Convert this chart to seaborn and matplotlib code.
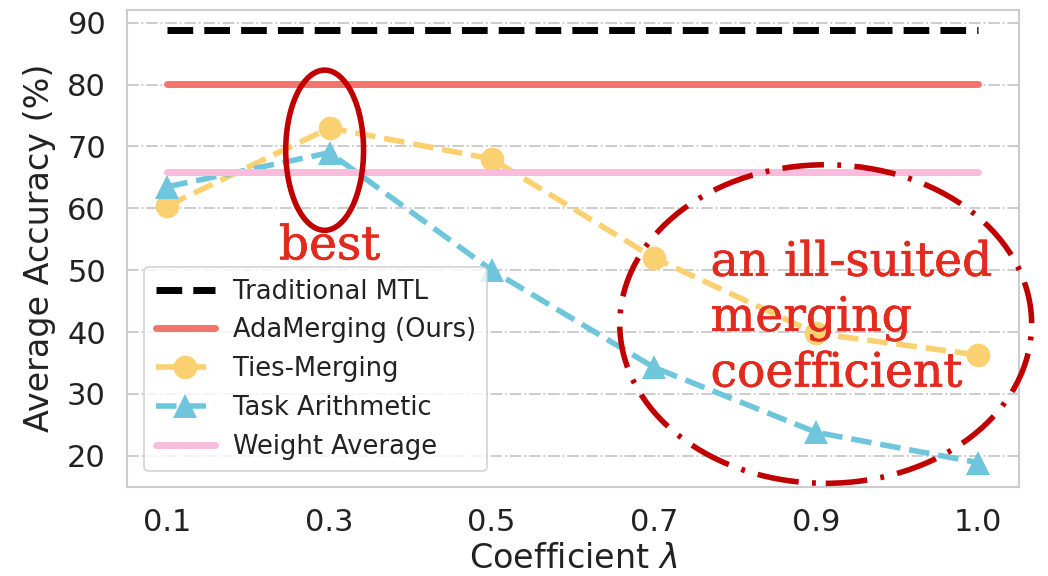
import matplotlib
matplotlib.use("Agg")
import matplotlib.pyplot as plt
import matplotlib.patheffects as pe
import seaborn as sns
import pandas as pd
import numpy as np
from matplotlib.patches import Ellipse

coefficients = ["0.1", "0.3", "0.5", "0.7", "0.9", "1.0"]
traditional_mtl = [88.9] * 6
adamerging = [80.1] * 6
ties_merging = [60.4, 73.0, 68.0, 52.0, 39.8, 36.3]
task_arithmetic = [63.5, 69.0, 50.0, 34.3, 23.8, 18.9]
weight_average = [65.9] * 6

sns.set_theme(style="whitegrid")
plt.rcParams['font.family'] = ['DejaVu Sans']

fig, ax = plt.subplots(figsize=(10.48, 5.76), dpi=100)
pos = np.arange(len(coefficients))

sns.lineplot(x=pos, y=traditional_mtl, ax=ax, color="black", lw=5,
             linestyle=(0, (3.7, 1.6)), label="Traditional MTL")
sns.lineplot(x=pos, y=adamerging, ax=ax, color="#f07470", lw=5,
             solid_capstyle="round", label="AdaMerging (Ours)")
sns.lineplot(x=pos, y=ties_merging, ax=ax, color="#fbd070", lw=4,
             linestyle=(0, (3.7, 1.6)), marker="o", markersize=17,
             markeredgewidth=0, label="Ties-Merging")
sns.lineplot(x=pos, y=task_arithmetic, ax=ax, color="#6fc6dc", lw=4,
             linestyle=(0, (3.7, 1.6)), marker="^", markersize=17,
             markeredgewidth=0, label="Task Arithmetic")
sns.lineplot(x=pos, y=weight_average, ax=ax, color="#f9bcdc", lw=5,
             solid_capstyle="round", label="Weight Average")

ax.set_xlim(-0.25, 5.25)
ax.set_ylim(15, 92.1)
ax.set_xticks(pos)
ax.set_xticklabels(coefficients)
ax.set_yticks([20, 30, 40, 50, 60, 70, 80, 90])
ax.tick_params(axis="both", labelsize=22, colors="#222222", pad=9)
ax.set_xlabel("Coefficient $\\lambda$", fontsize=24, color="#222222",
              labelpad=4)
ax.set_ylabel("Average Accuracy (%)", fontsize=24, color="#222222",
              labelpad=8)
ax.grid(axis="x", visible=False)
ax.grid(axis="y", linestyle="-.", color="#c8c8c8", lw=1.3)
for s in ax.spines.values():
    s.set_color("#cccccc")
    s.set_linewidth(1.5)

leg = ax.legend(loc="lower left", fontsize=18.5, frameon=True,
                handlelength=2.3, borderpad=0.45, labelspacing=0.5,
                handletextpad=0.7, bbox_to_anchor=(0.005, 0.005))
leg.get_frame().set_edgecolor("#cccccc")
leg.get_frame().set_linewidth(1.3)
for t in leg.get_texts():
    t.set_color("#222222")

ax.add_patch(Ellipse((0.97, 69.4), 0.48, 25.9, fill=False,
                     edgecolor="#c00000", lw=4, zorder=5, clip_on=False))
ax.add_patch(Ellipse((4.06, 41.3), 2.54, 51.5, fill=False,
                     edgecolor="#c00000", lw=4,
                     linestyle=(0, (7.5, 2.4, 0.7, 2.4)), zorder=5,
                     clip_on=False))
thick = [pe.withStroke(linewidth=0.5, foreground="#e32a1e")]
ax.text(1.0, 53.8, "best", fontsize=34, color="#e32a1e",
        family="DejaVu Serif", ha="center", va="center", zorder=6,
        path_effects=thick)
ax.text(3.35, 42.2, "an ill-suited\nmerging\ncoefficient", fontsize=34,
        color="#e32a1e", family="DejaVu Serif", ha="left", va="center",
        linespacing=1.28, zorder=6, path_effects=thick)

fig.subplots_adjust(left=0.121, right=0.972, top=0.983, bottom=0.155)
fig.savefig("out.png", dpi=100)
